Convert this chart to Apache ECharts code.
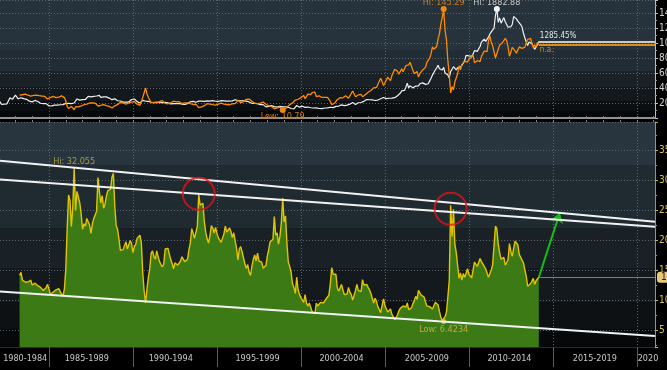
<!DOCTYPE html>
<html><head><meta charset="utf-8">
<script src="https://cdn.jsdelivr.net/npm/echarts@6/dist/echarts.min.js"></script>
<style>html,body{margin:0;padding:0;background:#000;}#c{width:667px;height:370px;}</style>
</head><body><div id="c"></div>
<script>
// ---- categories (monthly) ----
const startYear = 1982, startMonth = 2, monthCount = 469; // Feb 1982 .. Feb 2021
const goldStart = '1982-02';
const oilStart = '1983-04';
const ratioStart = '1983-04';

// ---- gold, USD/oz (white line, top panel) Feb 1982 .. Mar 2014 ----
const gold = [
374,330,350,334,315,339,364,435,422,414,444,
481,491,420,432,438,413,422,416,412,394,381,388,
370,386,394,381,377,378,348,348,341,340,341,320,
303,299,304,325,316,317,317,330,323,326,325,322,
345,339,346,340,342,343,352,376,418,423,398,391,
408,401,409,439,460,450,451,461,460,466,466,487,
477,442,444,452,451,451,437,432,413,406,420,419,
404,388,390,384,371,367,375,365,362,367,394,409,
410,417,393,374,369,352,362,395,389,380,382,378,
384,364,363,358,357,367,368,356,349,359,360,361,
354,354,345,338,337,341,353,340,345,344,335,334,
329,330,330,342,367,372,392,379,355,364,373,383,
387,382,384,378,381,386,385,381,392,390,384,380,
379,377,382,391,385,387,386,383,383,383,386,387,
400,405,396,393,392,385,383,387,383,381,378,369,
355,347,352,344,344,341,324,324,323,325,306,289,
289,297,296,308,299,292,293,284,289,296,294,291,
287,288,286,282,277,262,256,257,265,311,293,284,
284,300,286,280,275,286,282,274,273,270,266,272,
266,262,263,261,272,270,268,273,283,283,276,276,
282,296,294,302,314,322,314,310,319,317,319,333,
357,359,340,328,355,356,351,360,379,379,389,407,
414,405,406,404,384,392,398,400,405,420,439,442,
424,423,434,429,422,430,424,438,456,470,476,510,
549,555,557,610,676,596,633,632,598,585,627,629,
631,665,654,679,667,655,665,665,712,754,806,803,
889,922,968,909,888,889,933,839,829,806,760,865,
858,943,924,890,928,946,934,949,996,1043,1127,1135,
1118,1095,1113,1148,1205,1232,1193,1215,1271,1342,1370,1391,
1356,1372,1424,1474,1510,1528,1572,1780,1882.88,1665,1739,1652,
1656,1743,1674,1650,1585,1596,1594,1630,1760,1775,1721,1684,
1671,1627,1593,1487,1414,1343,1286,1347,1349,1316,1275,1225,
1244,1301,1355
];

// ---- crude oil, USD/bbl (orange line, top panel) Apr 1983 .. Mar 2014 ----
const oil = [
30.6,30.0,31.0,31.7,31.9,31.1,30.4,29.8,29.2,
29.7,30.1,30.8,30.6,30.5,29.8,28.7,29.3,29.3,28.8,28.1,25.4,
25.6,27.3,28.2,28.8,27.6,27.1,27.3,27.8,28.3,29.5,30.8,27.2,
22.9,15.4,12.6,12.8,15.4,13.5,11.0,15.1,14.9,14.9,15.2,16.1,
18.7,17.7,18.3,18.6,19.4,20.0,21.4,20.3,19.5,19.9,18.8,16.0,
17.0,16.9,16.2,17.9,17.4,16.5,15.5,15.5,14.5,13.3,13.5,16.3,
18.0,17.8,19.4,21.0,20.0,20.0,19.6,18.5,19.6,20.1,19.8,21.1,
22.9,22.1,20.4,18.4,18.2,16.9,18.6,27.2,33.7,40.0,32.3,27.3,
25.2,20.5,19.9,20.8,21.2,20.2,21.4,21.7,21.9,23.2,22.5,19.5,
18.8,19.0,18.9,20.2,20.9,22.4,21.8,21.4,21.9,21.7,20.3,19.4,
19.1,20.1,20.3,20.3,19.9,19.1,17.9,18.0,17.5,18.1,16.7,13.9,
15.0,14.8,14.7,16.4,17.9,19.1,19.7,18.4,17.5,17.7,18.1,17.2,
18.0,18.5,18.6,19.9,19.7,18.4,17.3,18.0,18.2,17.4,18.0,19.0,
18.9,19.1,21.3,23.5,21.2,20.4,21.3,21.9,23.9,24.9,23.7,25.2,
25.1,22.2,20.9,19.7,20.8,19.2,19.6,19.9,19.8,21.3,20.2,18.3,
16.7,16.1,15.0,15.4,14.9,12.2,14.1,13.4,15.0,14.4,12.9,10.79,
12.5,12.0,14.7,17.3,17.8,17.9,20.1,21.3,23.9,22.6,25.0,26.1,
27.2,29.4,29.9,25.7,28.8,31.8,29.7,31.2,33.9,33.1,34.4,28.5,
29.6,29.6,27.3,27.4,28.6,27.6,26.4,27.4,26.2,22.2,17.9,19.3,
19.7,20.7,24.4,26.3,27.0,25.5,26.9,28.4,29.7,28.8,26.3,29.4,
32.9,35.9,33.6,28.3,28.1,30.7,30.8,31.6,28.3,30.3,31.1,32.2,
34.3,34.7,36.7,36.7,40.3,38.0,40.7,44.9,46.0,53.1,48.5,43.3,
46.8,48.0,54.3,53.0,49.8,56.3,58.7,65.0,65.6,62.3,58.3,59.4,
65.5,61.6,62.9,69.7,70.9,70.9,74.4,73.0,63.8,58.9,59.1,62.0,
54.5,59.3,60.4,63.9,63.5,67.5,74.1,72.4,79.9,85.8,94.8,91.7,
93.0,95.4,105.5,112.6,125.4,133.9,145.29,116.7,104.1,76.6,57.3,33.5,
41.7,37.5,47.9,49.7,59.0,69.6,64.2,71.1,69.4,75.7,78.0,74.5,
78.3,76.4,81.2,84.3,73.7,75.3,76.4,76.8,75.3,81.9,84.3,89.2,
89.2,88.6,102.9,109.5,100.9,96.3,97.3,80.0,86.0,86.3,97.2,98.6,
100.3,102.2,106.2,103.3,94.7,82.3,87.9,94.1,94.5,89.5,86.5,87.9,
94.8,95.3,92.9,92.0,94.5,95.8,104.6,106.6,106.3,100.5,93.9,97.6,
94.6,100.8,98.0
];

// ---- gold / oil ratio (green area, bottom panel) Apr 1983 .. Mar 2014 ----
const ratio = [
14.1,14.6,13.3,13.3,13.0,13.2,13.0,12.8,13.3,
12.5,12.8,12.8,12.5,12.4,12.7,12.1,11.9,11.6,11.8,12.1,12.6,
11.8,11.0,10.8,11.3,11.4,11.7,11.6,11.9,11.4,11.1,10.6,11.8,
15.1,22.0,27.5,26.6,22.2,25.4,32.055,24.9,28.1,28.4,26.2,24.3,
21.8,22.7,22.3,23.6,23.7,22.5,21.1,22.7,23.6,23.4,24.8,30.4,
28.1,26.2,27.4,25.3,25.9,27.3,28.2,27.9,28.5,30.5,31.1,25.7,
22.4,21.8,20.1,18.3,18.6,18.4,19.1,19.7,18.5,18.3,19.9,19.4,
17.9,18.9,19.3,20.3,20.3,20.8,19.5,14.5,11.5,9.5,11.8,13.8,
15.2,17.8,18.2,17.2,16.8,18.2,17.2,16.4,15.9,15.5,16.0,18.5,
18.8,18.6,18.3,16.7,16.1,15.2,16.2,15.9,15.8,15.9,16.5,17.2,
17.2,16.4,16.3,16.8,18.4,19.5,21.9,21.1,20.3,20.1,22.3,27.6,
25.8,25.8,26.1,23.0,21.3,20.2,19.5,20.7,22.4,22.0,21.2,22.1,
21.1,20.4,20.5,19.6,19.5,21.0,22.3,21.3,21.0,22.0,21.4,20.4,
21.2,21.2,18.6,16.7,18.5,18.9,18.0,17.7,16.0,15.3,15.9,14.6,
14.1,15.6,16.8,17.5,16.5,17.8,16.5,16.3,16.3,15.3,15.1,15.8,
17.3,18.4,19.7,20.0,20.1,23.9,20.8,21.2,19.3,20.6,22.8,27.0,
23.0,24.0,19.5,16.3,15.6,14.6,12.7,12.1,11.1,13.8,11.7,10.9,
10.4,10.2,9.6,10.9,9.5,9.0,9.5,8.8,8.1,8.2,7.7,9.5,
9.0,8.9,9.6,9.5,9.5,9.8,10.2,10.0,10.8,12.7,15.4,14.3,
14.3,14.3,12.0,11.5,11.6,12.6,11.7,10.9,10.7,11.0,12.1,11.3,
10.9,10.0,10.1,11.6,12.6,11.6,11.4,11.4,13.4,12.5,12.5,12.6,
12.1,11.7,11.1,11.0,9.5,10.3,9.8,8.9,8.8,7.9,9.1,10.2,
9.1,8.8,8.0,8.1,8.5,7.6,7.2,6.7,7.0,7.5,8.2,8.6,
8.4,9.0,8.9,8.8,9.5,8.4,8.5,8.7,9.4,9.9,10.6,10.1,
11.6,11.2,10.8,10.6,10.5,9.7,9.0,9.2,8.9,8.8,8.5,8.8,
9.6,9.7,9.2,8.1,7.1,6.6,6.4234,7.2,8.0,10.5,13.3,25.8,
20.6,25.1,19.3,17.9,15.7,13.6,14.5,13.3,14.4,13.8,14.4,15.2,
14.3,14.3,13.7,13.6,16.3,16.4,15.6,15.8,16.9,16.4,16.3,15.6,
15.2,15.5,13.8,13.5,15.0,15.9,16.2,22.3,21.9,19.3,17.9,16.8,
16.5,17.1,15.8,16.0,16.7,19.4,18.1,17.3,18.6,19.8,19.9,19.2,
17.6,17.1,17.1,16.2,15.0,14.0,12.3,12.6,12.7,13.1,13.6,12.6,
13.2,12.9,13.8
];

// ---- x axis labels ----
const xLabelMonths = ['1983-08','1987-04','1992-04','1997-06','2002-06','2007-07','2012-06','2017-07','2020-09'];
const xLabelTexts  = ['1980-1984','1985-1989','1990-1994','1995-1999','2000-2004','2005-2009','2010-2014','2015-2019','2020'];

// ---- annotations (data coordinates) ----
const trendUpper  = [['1982-02', 33.2], ['2021-02', 23.05]];
const trendMiddle = [['1982-02', 30.1], ['2021-02', 22.2]];
const trendLower  = [['1982-02', 11.4], ['2021-02', 4.0]];
const circleMonths = ['1993-12', '2008-12'];
const circleValues = [27.7, 25.2];
const arrowEnd = ['2015-06', 24.55];
const goldChangeText = '1285.45%';
const oilChangeText = 'n.a.';

// ---- build ----
const months = [];
for (let i = 0; i < monthCount; i++) {
  const t = startMonth - 1 + i;
  const y = startYear + Math.floor(t / 12), m = t % 12 + 1;
  months.push(y + '-' + (m < 10 ? '0' : '') + m);
}
function pad(arr, start) {
  const s = months.indexOf(start);
  const out = months.map(() => '-');
  arr.forEach((v, i) => { out[s + i] = v; });
  return out;
}
const lastMonth = months[months.indexOf(goldStart) + gold.length - 1];
const endMonth = months[months.length - 1];
const goldLast = gold[gold.length - 1], oilLast = oil[oil.length - 1], ratioLast = ratio[ratio.length - 1];

const isSep = i => months[i].endsWith('-01') && (+months[i].slice(0, 4)) % 5 === 0;
const isYear = i => months[i].endsWith('-01');
const FONT = "'Liberation Sans Narrow','DejaVu Sans Condensed','Liberation Sans',sans-serif";
const gridDots = { color: '#5b6770', type: [1, 2], width: 1 };

function bands(stops) {
  const cs = [];
  stops.forEach((s, i) => {
    const next = i < stops.length - 1 ? stops[i + 1][0] : 1;
    cs.push({ offset: s[0], color: s[1] }, { offset: next, color: s[1] });
  });
  return { type: 'linear', x: 0, y: 0, x2: 0, y2: 1, colorStops: cs };
}

const chart = echarts.init(document.getElementById('c'), null, { renderer: 'canvas' });
chart.setOption({
  animation: false,
  backgroundColor: '#000',
  textStyle: { fontFamily: FONT },
  grid: [
    { left: 0, right: 12, top: 0, height: 118, show: true, borderWidth: 0, containLabel: false, outerBoundsMode: 'none',
      backgroundColor: bands([[0, '#27333c'], [0.42, '#222c34'], [0.6, '#1a2228'], [0.74, '#13181c'], [0.86, '#0c0f12'], [0.94, '#060708']]) },
    { left: 0, right: 12, top: 122, height: 225, show: true, borderWidth: 0, containLabel: false, outerBoundsMode: 'none',
      backgroundColor: bands([[0, '#28353e'], [0.19, '#1f2a31'], [0.47, '#1a2126'], [0.65, '#14191d'], [0.8, '#0e1114'], [0.92, '#07080a']]) }
  ],
  xAxis: [
    { type: 'category', gridIndex: 0, data: months, boundaryGap: false, offset: 2,
      axisLine: { show: true, lineStyle: { color: '#8d9297', width: 2 } },
      axisTick: { show: true, inside: true, length: 2, interval: i => isYear(i), lineStyle: { color: '#888' } },
      axisLabel: { show: false },
      splitLine: { show: true, interval: i => isSep(i), lineStyle: gridDots } },
    { type: 'category', gridIndex: 1, data: months, boundaryGap: false,
      axisLine: { show: true, lineStyle: { color: '#2a2a2a' } },
      axisTick: { show: true, length: 20, interval: i => isSep(i), lineStyle: { color: '#5a5a5a' } },
      axisLabel: { show: true, interval: i => xLabelMonths.indexOf(months[i]) >= 0,
        formatter: v => xLabelTexts[xLabelMonths.indexOf(v)], color: '#c8c8c8', fontSize: 9, margin: 7, fontFamily: FONT },
      splitLine: { show: true, interval: i => isSep(i), lineStyle: gridDots } },
    { type: 'category', gridIndex: 1, data: months, boundaryGap: false,
      axisLine: { show: false },
      axisTick: { show: true, length: 2, interval: i => isYear(i), lineStyle: { color: '#888' } },
      axisLabel: { show: false }, splitLine: { show: false } }
  ],
  yAxis: [
    { type: 'value', gridIndex: 0, position: 'right', min: 0, max: 157.33, splitNumber: 8,
      axisLine: { show: true, lineStyle: { color: '#bdbdbd' } },
      axisTick: { show: true, length: 3, lineStyle: { color: '#bdbdbd' } },
      minorTick: { show: true, splitNumber: 2, length: 2, lineStyle: { color: '#999' } },
      axisLabel: { color: '#d2d2d2', fontSize: 10, margin: 4, showMinLabel: false, showMaxLabel: false, fontFamily: FONT },
      splitLine: { show: true, lineStyle: gridDots } },
    { type: 'value', gridIndex: 0, min: 107.5, max: 2029, show: false, splitLine: { show: false } },
    { type: 'value', gridIndex: 1, position: 'right', min: 2.1667, max: 39.6667, splitNumber: 8,
      axisLine: { show: true, lineStyle: { color: '#a89a22' } },
      axisTick: { show: true, length: 3, lineStyle: { color: '#c8b42a' } },
      minorTick: { show: true, splitNumber: 2, length: 2, lineStyle: { color: '#a89a22' } },
      axisLabel: { color: '#d6c44a', fontSize: 10, margin: 4, showMinLabel: false, showMaxLabel: false, fontFamily: FONT },
      splitLine: { show: true, lineStyle: gridDots } }
  ],
  series: [
    { name: 'Gold', type: 'line', xAxisIndex: 0, yAxisIndex: 1, data: pad(gold, goldStart),
      showSymbol: false, lineStyle: { color: '#efefef', width: 1.2 }, z: 3,
      markPoint: { symbol: 'circle', symbolSize: 6, itemStyle: { color: '#f4f4f4' },
        label: { show: true, position: 'top', distance: -1, color: '#c4c4c4', fontSize: 9, formatter: p => 'Hi: ' + p.value },
        data: [{ type: 'max' }] },
      markLine: { silent: true, symbol: 'none',
        data: [[{ coord: [lastMonth, goldLast] }, { coord: [endMonth, goldLast] }]],
        lineStyle: { color: '#c9c9c9', width: 2, type: 'solid' },
        label: { show: true, position: 'insideStartTop', distance: 1, color: '#e6e6e6', fontSize: 8, formatter: goldChangeText } } },
    { name: 'Oil', type: 'line', xAxisIndex: 0, yAxisIndex: 0, data: pad(oil, oilStart),
      showSymbol: false, lineStyle: { color: '#ff8a00', width: 1.3 }, z: 4,
      markPoint: { symbol: 'circle', symbolSize: 6, itemStyle: { color: '#f08a10' },
        label: { show: true, fontSize: 9, color: '#d07a14' },
        data: [
          { type: 'max', label: { position: 'top', distance: -1, formatter: p => 'Hi: ' + p.value } },
          { type: 'min', label: { position: 'bottom', distance: -1, formatter: p => 'Low: ' + p.value } }
        ] },
      markLine: { silent: true, symbol: 'none',
        data: [
          [{ coord: [lastMonth, oilLast], lineStyle: { color: '#e08a10', width: 2, type: 'solid' },
             label: { show: true, position: 'insideStartBottom', distance: 1, color: '#e08a10', fontSize: 8, formatter: oilChangeText } },
           { coord: [endMonth, oilLast] }],
          [{ coord: [lastMonth, oilLast], lineStyle: { opacity: 0, width: 0 },
             label: { show: true, position: 'end', distance: 2, formatter: String(oilLast), backgroundColor: '#f39a1c',
               color: '#1b1b1b', padding: [1, 3, 0, 4], borderRadius: 3, fontSize: 10 } },
           { coord: [endMonth, oilLast] }]
        ] } },
    { name: 'Gold/Oil', type: 'line', xAxisIndex: 1, yAxisIndex: 2, data: pad(ratio, ratioStart),
      showSymbol: false, lineStyle: { color: '#e2c400', width: 1.4 }, z: 2,
      areaStyle: { color: '#3b7a15', opacity: 1 },
      markPoint: { symbol: 'circle', symbolSize: 5, itemStyle: { color: '#f0b828' },
        label: { show: true, fontSize: 9, color: '#a99c38' },
        data: [
          { type: 'max', symbolSize: 0, label: { position: 'top', distance: 2, formatter: p => 'Hi: ' + p.value } },
          { type: 'min', label: { position: 'bottom', distance: 1, color: '#c2a848', formatter: p => 'Low: ' + p.value } }
        ] },
      markLine: { silent: true, symbol: 'none',
        data: [
          [{ coord: [lastMonth, ratioLast], lineStyle: { color: '#b07a08', width: 1, type: 'solid' },
             label: { show: true, position: 'end', distance: 2, formatter: String(ratioLast), backgroundColor: '#e9c878',
               color: '#1b1b1b', padding: [1, 3, 0, 4], borderRadius: 3, fontSize: 10 } },
           { coord: [endMonth, ratioLast] }],
          [{ coord: [lastMonth, ratioLast], symbol: 'none', lineStyle: { color: '#10c010', width: 2, type: 'solid' }, label: { show: false } },
           { coord: arrowEnd, symbol: 'arrow', symbolSize: 10 }]
        ] } },
    { name: 'trendUpper', type: 'line', xAxisIndex: 1, yAxisIndex: 2, data: trendUpper, showSymbol: false, z: 5,
      lineStyle: { color: '#f2f2f2', width: 2 } },
    { name: 'trendMiddle', type: 'line', xAxisIndex: 1, yAxisIndex: 2, data: trendMiddle, showSymbol: false, z: 5,
      lineStyle: { color: '#f2f2f2', width: 2 } },
    { name: 'trendLower', type: 'line', xAxisIndex: 1, yAxisIndex: 2, data: trendLower, showSymbol: false, z: 5,
      lineStyle: { color: '#f2f2f2', width: 2 } },
    { name: 'circles', type: 'scatter', xAxisIndex: 1, yAxisIndex: 2, z: 6,
      data: circleMonths.map((m, i) => [m, circleValues[i]]), symbol: 'circle', symbolSize: 32,
      itemStyle: { color: 'rgba(0,0,0,0)', borderColor: '#e31414', borderWidth: 2 } }
  ]
});
</script></body></html>
